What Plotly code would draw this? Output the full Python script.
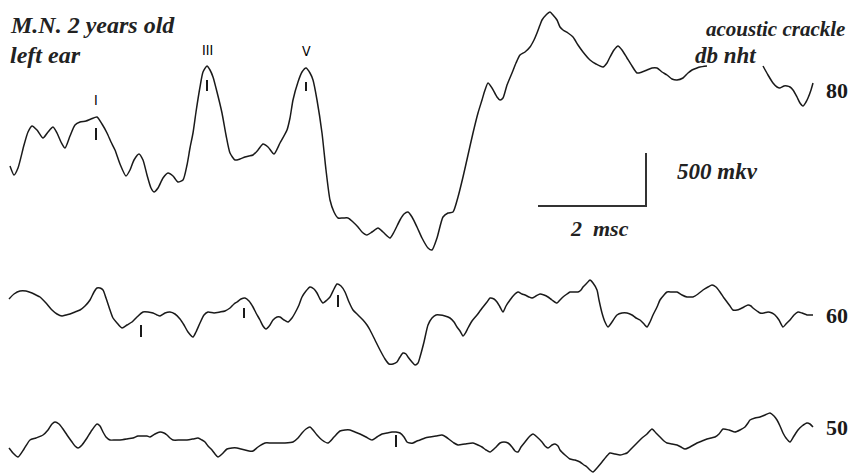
import plotly.graph_objects as go

# ---- traced waveform data (time axis units, amplitude units) ----
t80_a = [10,14,18,24,28,32,37,43,48,53,57,61,65,70,75,80,86,91,97,102,107,111,115,120,126,130,134,139,143,147,151,154,158,163,168,173,178,183,187,190,193,196,200,203,207,210,213,217,222,226,230,235,240,245,249,253,258,263,268,274,280,287,290,293,298,302,306,310,313,317,322,326,330,334,338,343,348,353,358,362,367,372,378,383,390,394,400,404,408,412,417,422,428,432,437,443,448,453,458,463,468,473,478,482,485,488,492,497,500,503,507,512,516,520,525,530,534,537,540,542,546,550,553,557,560,563,568,573,578,583,590,596,603,607,610,614,618,622,627,632,637,642,647,652,657,662,667,672,677,683,688,692,697,700,707]
v80_a = [166,175,168,145,132,126,130,138,132,127,133,142,148,136,125,122,121,119,117,124,133,142,150,164,176,170,160,154,160,175,188,192,188,178,173,176,182,180,165,148,133,112,87,72,66,70,77,92,113,135,153,160,159,157,156,155,150,144,147,154,143,130,118,100,82,72,68,73,80,100,133,170,200,212,218,218,218,222,227,232,235,232,228,232,238,232,220,214,212,217,227,238,248,250,238,217,213,212,197,177,155,133,113,100,90,83,88,97,100,98,85,73,63,55,52,47,40,33,25,20,15,12,15,20,27,30,33,37,45,52,60,64,67,63,57,50,46,50,58,66,73,72,70,68,68,72,75,79,80,78,73,70,68,67,66]
t80_b = [763,768,773,777,780,784,787,790,793,797,800,803,806,808,811,813]
v80_b = [66,75,83,87,88,86,86,87,90,97,103,106,102,98,90,83]

t60 = [9,14,20,26,32,36,40,46,52,57,62,66,70,75,80,85,90,94,97,100,103,106,110,113,117,122,127,132,137,143,148,153,157,160,165,170,175,180,184,188,193,196,200,204,208,214,220,225,230,234,237,241,245,249,253,256,260,263,266,270,273,277,280,284,288,292,295,299,302,306,310,314,317,320,323,327,330,334,337,341,345,349,353,358,363,367,370,375,380,385,389,393,397,400,403,406,408,412,415,418,420,424,428,432,436,440,445,450,454,457,460,463,466,468,472,477,480,483,487,490,494,497,500,503,506,510,514,518,522,525,529,532,536,540,544,548,552,557,560,563,567,570,575,578,581,583,587,590,593,597,599,602,605,608,612,617,622,627,632,636,640,644,647,650,653,657,660,664,667,672,677,682,687,690,693,698,703,708,712,716,720,724,727,730,733,737,740,744,748,751,753,757,760,764,768,772,775,779,783,786,790,794,798,802,807,810,813]
v60 = [299,294,291,291,293,295,297,303,310,314,316,315,314,312,310,306,300,292,288,288,290,298,310,318,323,328,325,322,317,312,312,313,315,316,313,312,314,319,325,332,337,332,323,315,312,313,312,311,308,304,302,299,298,301,307,313,320,326,329,325,320,317,317,320,322,318,313,305,297,291,287,289,293,299,303,300,297,289,284,286,292,302,310,315,320,325,330,340,350,359,364,364,362,357,353,354,357,362,365,363,357,342,325,318,315,315,316,318,322,327,331,336,332,328,321,315,311,307,302,298,299,302,307,312,306,300,295,292,294,295,297,298,296,294,295,297,300,303,300,297,294,292,292,292,290,287,283,280,283,290,300,313,322,327,322,315,313,313,315,318,320,324,327,322,315,307,300,295,292,292,292,295,297,297,297,294,290,287,285,287,292,298,302,306,310,310,309,307,305,306,308,311,313,313,312,313,315,320,327,324,320,315,312,313,315,315,315]

t50 = [9,13,18,24,30,36,43,48,52,55,59,63,67,72,75,78,82,87,92,97,100,103,106,110,115,120,127,133,138,143,147,150,155,160,164,167,170,173,180,187,193,198,202,205,208,212,215,218,222,227,232,237,241,245,249,253,258,265,271,277,285,293,298,302,306,310,313,317,322,328,334,340,345,350,355,360,366,372,377,382,387,392,396,400,404,407,410,413,417,420,425,430,436,442,446,450,454,458,465,473,478,482,486,490,495,500,504,508,512,515,518,521,525,529,533,537,542,545,548,552,555,558,560,565,570,575,580,584,587,590,593,597,602,606,610,615,620,624,627,632,637,642,647,652,656,660,664,667,672,677,681,685,690,697,702,707,711,715,719,723,729,735,740,745,748,750,755,760,765,770,774,777,780,783,786,790,794,798,802,807,810,813]
v50 = [448,453,457,449,440,438,435,430,424,422,424,429,435,442,446,448,445,438,430,424,426,432,437,440,440,440,439,438,436,436,436,437,434,432,433,435,438,440,440,440,439,438,440,442,446,450,454,457,454,449,448,448,449,450,451,451,447,443,443,443,443,442,438,433,429,427,430,435,440,443,437,431,430,430,432,434,437,440,437,434,433,432,432,433,437,442,443,443,441,440,438,437,436,435,437,440,443,445,444,443,445,447,450,452,448,443,442,443,447,451,452,447,442,437,434,437,442,446,448,445,444,446,450,455,459,460,462,465,467,470,472,468,462,457,453,454,455,454,453,448,443,438,434,429,433,437,441,443,444,445,447,449,447,443,441,439,438,437,434,429,430,432,430,427,423,420,418,417,415,413,416,420,426,433,438,442,436,430,426,423,424,427]

# wave peak labels and latency marks
peak_names = ["I", "III", "V"]
peak_t = [96, 207, 306]
peak_label_v = [100, 50, 51]
mark_t = [96, 207, 306, 141, 244, 338, 396]
mark_top = [128, 80, 82, 325, 308, 295, 435]
mark_bot = [140, 91, 91, 337, 318, 307, 447]

# intensity labels (dB nHL)
levels = ["80", "60", "50"]
level_v = [90, 315, 427]

# calibration bar: 2 ms horizontal, 500 µV vertical
cal_t = [538, 646, 646]
cal_v = [206, 206, 153]

W, H = 851, 473

fig = go.Figure()
line_style = dict(color="#1a1a1a", width=1.5, shape="spline", smoothing=0.6)
for tx, vy in [(t80_a, v80_a), (t80_b, v80_b), (t60, v60), (t50, v50)]:
    fig.add_trace(go.Scatter(x=tx, y=vy, mode="lines", line=line_style,
                             hoverinfo="skip", showlegend=False))

mx, my = [], []
for t, a, b in zip(mark_t, mark_top, mark_bot):
    mx += [t, t, None]
    my += [a, b, None]
fig.add_trace(go.Scatter(x=mx, y=my, mode="lines",
                         line=dict(color="#1a1a1a", width=2), showlegend=False, hoverinfo="skip"))

fig.add_trace(go.Scatter(x=cal_t, y=cal_v, mode="lines",
                         line=dict(color="#333333", width=2), showlegend=False, hoverinfo="skip"))

for name, t, v in zip(peak_names, peak_t, peak_label_v):
    fig.add_annotation(x=t, y=v, xref="x", yref="y", text=name, showarrow=False,
                       xanchor="center", yanchor="middle",
                       font=dict(family="DejaVu Sans Condensed, DejaVu Sans", size=14, color="#000000"))

for lab, v in zip(levels, level_v):
    fig.add_annotation(x=837, y=v, xref="x", yref="y", text=f"<b>{lab}</b>", showarrow=False,
                       xanchor="center", yanchor="middle",
                       font=dict(family="Liberation Serif", size=22, color="#1a1a1a"))

serif = "Liberation Serif"
def note(txt, x, y, size, anchor="left"):
    fig.add_annotation(x=x, y=y, xref="x", yref="y", text=f"<b><i>{txt}</i></b>",
                       showarrow=False, xanchor=anchor, yanchor="middle",
                       font=dict(family=serif, size=size, color="#222222"))

note("M.N. 2 years old", 8, 25, 24)
note("left ear", 8, 55, 24)
note("acoustic crackle", 847, 29, 21, anchor="right")
note("db nht", 693, 55, 23)
note("500 mkv", 675, 171, 23)
note("2\u00a0 msc", 568, 228, 22)

fig.update_layout(
    width=W, height=H,
    margin=dict(l=0, r=0, t=0, b=0),
    paper_bgcolor="white", plot_bgcolor="white",
    xaxis=dict(range=[0, W], visible=False, fixedrange=True),
    yaxis=dict(range=[H, 0], visible=False, fixedrange=True),
)
fig.write_html("out.html", config={"displayModeBar": False, "staticPlot": True},
               post_script="document.body.style.margin='0';document.body.style.overflow='hidden';")
